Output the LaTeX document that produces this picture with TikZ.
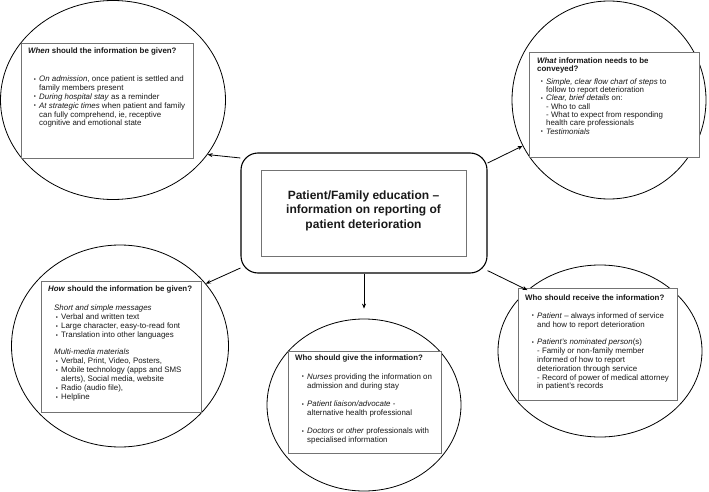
\documentclass[tikz,border=0pt]{standalone}
\usepackage{fontspec}
\setmainfont{Liberation Sans}
\usetikzlibrary{shapes.geometric,arrows.meta}
\newcommand\bul{\llap{\raisebox{0.3pt}{\scalebox{0.75}{•}}\hspace{3.2pt}}}
\begin{document}
\begin{tikzpicture}[x=1pt,y=-1pt,
  ell/.style={draw=black, line width=0.8pt, ellipse, inner sep=0pt},
  gbox/.style={draw=black!55, line width=0.8pt, fill=white, rectangle, inner sep=0pt},
  txt/.style={anchor=base west, inner sep=0pt, text=black!90, font=\fontsize{7.9}{9}\selectfont},
  ttl/.style={txt, font=\fontsize{7.9}{9}\selectfont\bfseries},
  conn/.style={draw=black, line width=0.8pt, -{Stealth[length=5pt,width=4pt]}}
]
\useasboundingbox (0,0) rectangle (709,492);
\fill[white] (0,0) rectangle (709,492);

% ellipses
\node[ell, minimum width=225pt, minimum height=199pt] (e1) at (113,100) {};
\node[ell, minimum width=194pt, minimum height=198pt] (e2) at (609,100) {};
\node[ell, minimum width=217pt, minimum height=202pt] (e3) at (120,346) {};
\node[ell, minimum width=194pt, minimum height=172pt] (e4) at (364,405) {};
\node[ell, minimum width=204pt, minimum height=172pt] (e5) at (600,351) {};

% grey boxes
\node[gbox, minimum width=172pt, minimum height=115pt] (b1) at (107,100.5) {};
\node[gbox, minimum width=170pt, minimum height=105pt] (b2) at (614,104.5) {};
\node[gbox, minimum width=160pt, minimum height=131pt] (b3) at (121,346.5) {};
\node[gbox, minimum width=153pt, minimum height=102pt] (b4) at (364.5,402) {};
\node[gbox, minimum width=159pt, minimum height=112pt] (b5) at (597.5,344) {};

% centre
\node[draw=black, line width=1.1pt, rounded corners=17pt, minimum width=246pt, minimum height=120pt, inner sep=0pt] (cbox) at (364,213) {};
\node[gbox, minimum width=205pt, minimum height=86pt] (cin) at (363.5,213) {};
\node[inner sep=0pt, align=center, text=black!90, font=\fontsize{12}{14.5}\selectfont\bfseries] (ctitle) at (363.5,210.5)
  {Patient/Family education –\\information on reporting of\\patient deterioration};

% connectors
\draw[conn] (cbox.156.3) -- (e1.330.5);
\draw[conn] (cbox.22.9) -- (e2.208.5);
\draw[conn] (cbox.204.4) -- (e3.36.9);
\draw[conn, shorten >=10pt] (cbox.south) -- (e4.north);
\draw[conn] (cbox.335.9) -- (e5.140.1);

% When box
\node[ttl] (t1) at (28,54) {\textit{When} should the information be given?};
\node[txt] (t1a) at (39,81.5) {\bul\textit{On admission}, once patient is settled and};
\node[txt] (t1b) at (39,90.4) {family members present};
\node[txt] (t1c) at (39,99.3) {\bul\textit{During hospital stay} as a reminder};
\node[txt] (t1d) at (39,108.2) {\bul\textit{At strategic times} when patient and family};
\node[txt] (t1e) at (39,117.1) {can fully comprehend, ie, receptive};
\node[txt] (t1f) at (39,126) {cognitive and emotional state};

% What box
\node[ttl] (t2) at (537,63.2) {\textit{What} information needs to be};
\node[ttl] (t2x) at (537,71.8) {conveyed?};
\node[txt] (t2a) at (546,84.2) {\bul\textit{Simple, clear flow chart of steps} to};
\node[txt] (t2b) at (546,92.5) {follow to report deterioration};
\node[txt] (t2c) at (546,100.9) {\bul\textit{Clear, brief details} on:};
\node[txt] (t2d) at (546,109.2) {- Who to call};
\node[txt] (t2e) at (546,117.6) {- What to expect from responding};
\node[txt] (t2f) at (546,125.9) {health care professionals};
\node[txt] (t2g) at (546,134.3) {\bul\textit{Testimonials}};

% How box
\node[ttl] (t3) at (48,291.8) {\textit{How} should the information be given?};
\node[txt] (t3a) at (54,310.8) {\textit{Short and simple messages}};
\node[txt] (t3b) at (61,319.8) {\bul Verbal and written text};
\node[txt] (t3c) at (61,328.8) {\bul Large character, easy-to-read font};
\node[txt] (t3d) at (61,337.8) {\bul Translation into other languages};
\node[txt] (t3e) at (54,354.8) {\textit{Multi-media materials}};
\node[txt] (t3f) at (61,363.8) {\bul Verbal, Print, Video, Posters,};
\node[txt] (t3g) at (61,372.8) {\bul Mobile technology (apps and SMS};
\node[txt] (t3h) at (61,381.8) {alerts), Social media, website};
\node[txt] (t3i) at (61,390.8) {\bul Radio (audio file),};
\node[txt] (t3j) at (61,399.8) {\bul Helpline};

% Who give box
\node[ttl] (t4) at (295,360.8) {Who should give the information?};
\node[txt] (t4a) at (307,379.2) {\bul\textit{Nurses} providing the information on};
\node[txt] (t4b) at (307,388.2) {admission and during stay};
\node[txt] (t4c) at (307,406.5) {\bul\textit{Patient liaison/advocate} -};
\node[txt] (t4d) at (307,415.2) {alternative health professional};
\node[txt] (t4e) at (307,433.8) {\bul\textit{Doctors} or \textit{other} professionals with};
\node[txt] (t4f) at (307,442.5) {specialised information};

% Who receive box
\node[ttl] (t5) at (525,300.2) {Who should receive the information?};
\node[txt] (t5a) at (537,318.2) {\bul\textit{Patient} – always informed of service};
\node[txt] (t5b) at (537,327.2) {and how to report deterioration};
\node[txt] (t5c) at (537,344.8) {\bul\textit{Patient's nominated person}(s)};
\node[txt] (t5d) at (537,353.6) {- Family or non-family member};
\node[txt] (t5e) at (537,362.4) {informed of how to report};
\node[txt] (t5f) at (537,371.2) {deterioration through service};
\node[txt] (t5g) at (537,380) {- Record of power of medical attorney};
\node[txt] (t5h) at (537,388.8) {in patient's records};
\end{tikzpicture}
\end{document}
